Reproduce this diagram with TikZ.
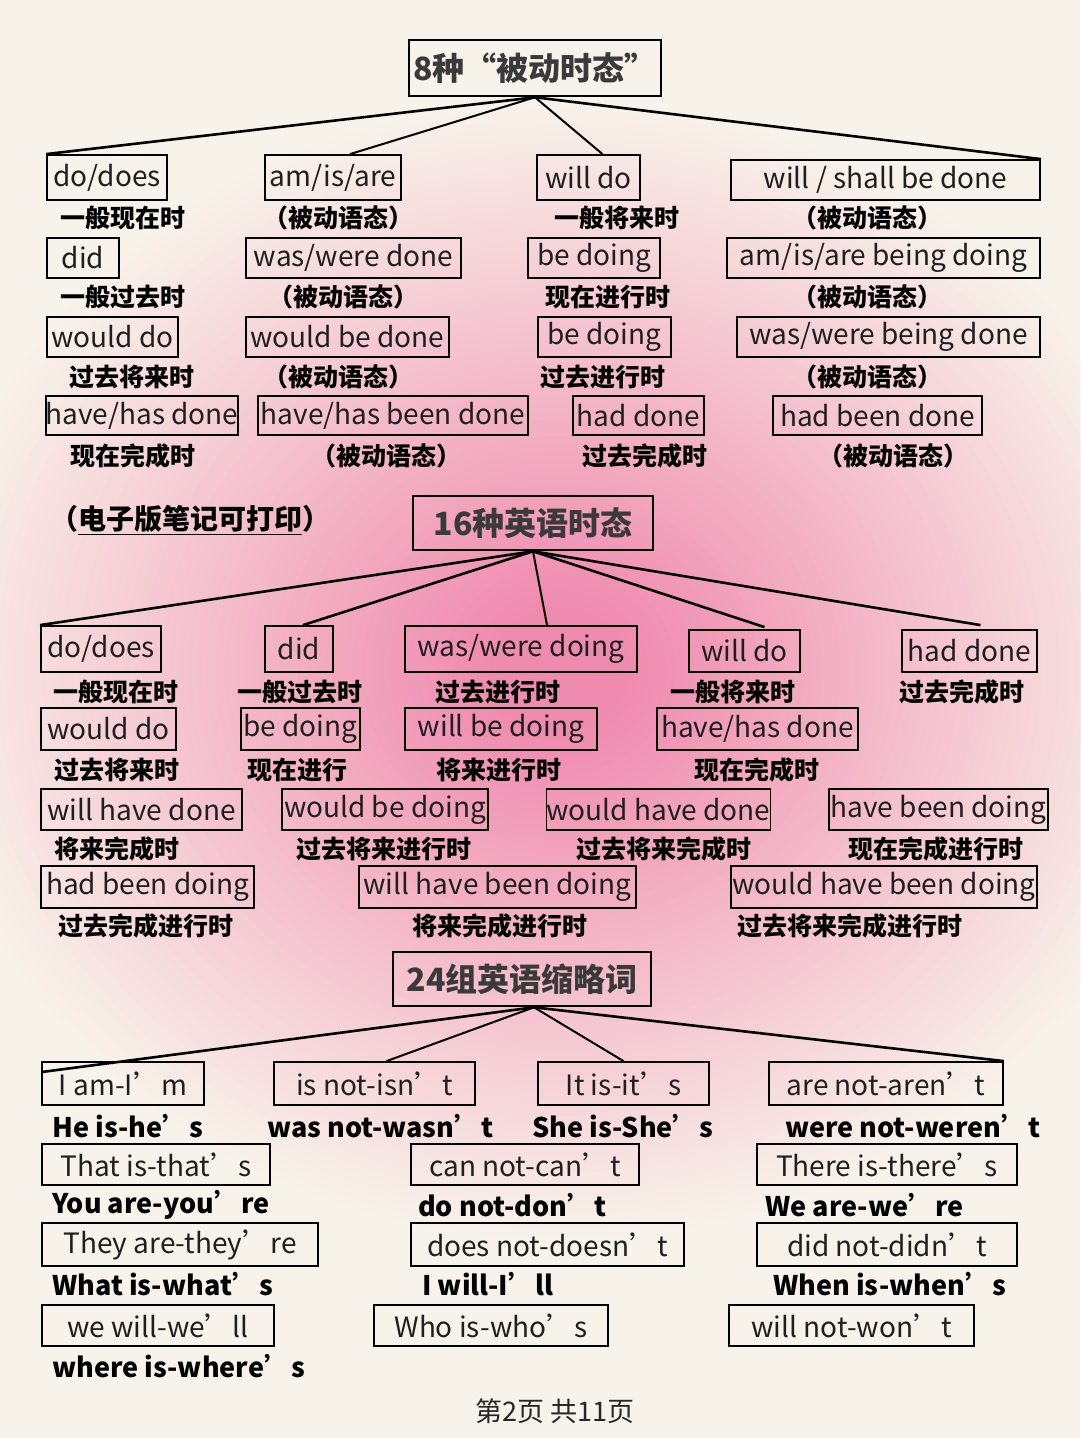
\documentclass[tikz,border=0pt]{standalone}
\usepackage{fontspec}
\setmainfont{Noto Sans CJK SC}
\usetikzlibrary{calc}
\definecolor{cream}{HTML}{F8F3EA}
\definecolor{pk1}{HTML}{F08BB0}
\definecolor{titlegrey}{HTML}{3A3A3A}
\newcommand{\bx}[6]{\node[tb, minimum width={(#4-#2)*1pt}, minimum height={(#5-#3)*1pt}] (#1) at ({(#2+#4)/2},{(#3+#5)/2}) {#6};}
\begin{document}
\begin{tikzpicture}[x=1pt,y=-1pt,
  tb/.style={draw=black, line width=1.8pt, inner sep=0pt, font=\fontsize{28}{30}\selectfont, text=black!88},
  ttl/.style={draw=black, line width=2.6pt, inner sep=0pt, font=\fontsize{32}{34}\selectfont\bfseries, text=titlegrey},
  lbl/.style={inner sep=0pt, font=\fontsize{25}{27}\selectfont\bfseries, text=black},
  plain/.style={inner sep=0pt, anchor=west, font=\fontsize{27}{29}\selectfont\bfseries, text=black},
  conn/.style={draw=black, line width=2.6pt},
  conn2/.style={draw=black, line width=2pt}]
\useasboundingbox (0,0) rectangle (1080,1438);
\fill[cream] (0,0) rectangle (1080,1438);
\begin{scope}
\clip (0,0) rectangle (1080,1438);
\foreach \i in {1,...,70}{
  \pgfmathsetmacro{\f}{\i/70}
  \pgfmathsetmacro{\pc}{min(100,112*\f)}
  \pgfmathsetmacro{\rx}{640*(1-\f)+6}
  \pgfmathsetmacro{\ry}{570*(1-\f)+6}
  \fill[pk1!\pc!cream] (560,670) ellipse ({\rx pt} and {\ry pt});
}
\end{scope}

% ---------- Section 1 ----------
\node[ttl, minimum width=252pt, minimum height=56pt] (t1) at (535,68) {8种“被动时态”};
\bx{a1}{47}{155}{167}{200}{do/does}
\bx{a2}{265}{155}{401}{200}{am/is/are}
\bx{a3}{537}{155}{640}{200}{will do}
\bx{a4}{731}{160}{1040}{200}{will / shall be done}
\node[lbl] (la1) at (123,218) {一般现在时};
\node[lbl] (la2) at (338,218) {（被动语态）};
\node[lbl] (la3) at (617,218) {一般将来时};
\node[lbl] (la4) at (867,218) {（被动语态）};
\bx{b1}{47}{238}{119}{278}{did}
\bx{b2}{246}{238}{461}{278}{was/were done}
\bx{b3}{528}{238}{660}{278}{be doing}
\bx{b4}{727}{238}{1040}{278}{am/is/are being doing}
\node[lbl] (lb1) at (123,297) {一般过去时};
\node[lbl] (lb2) at (343,297) {（被动语态）};
\node[lbl] (lb3) at (608,297) {现在进行时};
\node[lbl] (lb4) at (867,297) {（被动语态）};
\bx{c1}{47}{317}{178}{357}{would do}
\bx{c2}{246}{317}{449}{357}{would be done}
\bx{c3}{538}{317}{671}{357}{be doing}
\bx{c4}{737}{317}{1040}{357}{was/were being done}
\node[lbl] (lc1) at (132,377) {过去将来时};
\node[lbl] (lc2) at (338,377) {（被动语态）};
\node[lbl] (lc3) at (603,377) {过去进行时};
\node[lbl] (lc4) at (867,377) {（被动语态）};
\bx{d1}{47}{396}{237}{435}{have/has done}
\bx{d2}{258}{396}{528}{435}{have/has been done}
\bx{d3}{573}{396}{704}{435}{had done}
\bx{d4}{773}{396}{982}{435}{had been done}
\node[lbl] (ld1) at (133,456) {现在完成时};
\node[lbl] (ld2) at (386,456) {（被动语态）};
\node[lbl] (ld3) at (645,456) {过去完成时};
\node[lbl] (ld4) at (893,456) {（被动语态）};
\draw[conn] (t1.south) -- (a1.north west);
\draw[conn2] (t1.south) -- ($(a2.north)+(17,0)$);
\draw[conn2] (t1.south) -- ($(a3.north)+(14,0)$);
\draw[conn] (t1.south) -- (a4.north east);

\node[lbl, font=\fontsize{28}{30}\selectfont\bfseries] (note) at (190,520) {（\underline{电子版笔记可打印}）};

% ---------- Section 2 ----------
\node[ttl, minimum width=240pt, minimum height=54pt] (t2) at (533,523) {16种英语时态};
\bx{e1}{41}{626}{161}{672}{do/does}
\bx{e2}{265}{626}{333}{672}{did}
\bx{e3}{405}{626}{637}{672}{was/were doing}
\bx{e4}{689}{630}{800}{672}{will do}
\bx{e5}{902}{630}{1037}{672}{had done}
\node[lbl] (le1) at (116,692) {一般现在时};
\node[lbl] (le2) at (300,692) {一般过去时};
\node[lbl] (le3) at (498,692) {过去进行时};
\node[lbl] (le4) at (733,692) {一般将来时};
\node[lbl] (le5) at (962,692) {过去完成时};
\bx{f1}{41}{708}{176}{750}{would do}
\bx{f2}{241}{708}{360}{750}{be doing}
\bx{f3}{405}{708}{597}{750}{will be doing}
\bx{f4}{657}{708}{858}{750}{have/has done}
\node[lbl] (lf1) at (117,770) {过去将来时};
\node[lbl] (lf2) at (297,770) {现在进行};
\node[lbl] (lf3) at (499,770) {将来进行时};
\node[lbl] (lf4) at (757,770) {现在完成时};
\bx{g1}{41}{789}{242}{830}{will have done}
\bx{g2}{282}{789}{488}{830}{would be doing}
\bx{g3}{548}{789}{769}{830}{would have done}
\bx{g4}{829}{789}{1048}{830}{have been doing}
\node[lbl] (lg1) at (117,849) {将来完成时};
\node[lbl] (lg2) at (384,849) {过去将来进行时};
\node[lbl] (lg3) at (664,849) {过去将来完成时};
\node[lbl] (lg4) at (936,849) {现在完成进行时};
\bx{h1}{41}{866}{254}{908}{had been doing}
\bx{h2}{359}{866}{636}{908}{will have been doing}
\bx{h3}{731}{866}{1037}{908}{would have been doing}
\node[lbl] (lh1) at (146,926) {过去完成进行时};
\node[lbl] (lh2) at (500,926) {将来完成进行时};
\node[lbl] (lh3) at (850,926) {过去将来完成进行时};
\draw[conn] (t2.south) -- (e1.north west);
\draw[conn] (t2.south) -- ($(e2.north)+(4,0)$);
\draw[conn2] (t2.south) -- ($(e3.north)+(26,0)$);
\draw[conn] (t2.south) -- ($(e4.north)+(20,-2)$);
\draw[conn] (t2.south) -- ($(e5.north)+(11,-4)$);

% ---------- Section 3 ----------
\node[ttl, minimum width=258pt, minimum height=54pt] (t3) at (522,979) {24组英语缩略词};
\bx{k1}{42}{1062}{204}{1105}{I am-I’m}
\bx{k2}{274}{1062}{475}{1105}{is not-isn’t}
\bx{k3}{538}{1062}{709}{1105}{It is-it’s}
\bx{k4}{769}{1062}{1003}{1105}{are not-aren’t}
\node[plain] (p1) at (52,1126) {He is-he’s};
\node[plain] (p2) at (267,1126) {was not-wasn’t};
\node[plain] (p3) at (532,1126) {She is-She’s};
\node[plain] (p4) at (785,1126) {were not-weren’t};
\bx{m1}{42}{1144}{270}{1185}{That is-that’s}
\bx{m2}{411}{1144}{639}{1185}{can not-can’t}
\bx{m3}{757}{1144}{1017}{1185}{There is-there’s}
\node[plain] (q1) at (52,1205) {You are-you’re};
\node[plain] (q2) at (418,1205) {do not-don’t};
\node[plain] (q3) at (765,1205) {We are-we’re};
\bx{n1}{42}{1223}{318}{1266}{They are-they’re}
\bx{n2}{411}{1223}{684}{1266}{does not-doesn’t}
\bx{n3}{757}{1223}{1017}{1266}{did not-didn’t}
\node[plain] (r1) at (52,1284) {What is-what’s};
\node[plain] (r2) at (422,1284) {I will-I’ll};
\node[plain] (r3) at (773,1284) {When is-when’s};
\bx{o1}{42}{1305}{274}{1346}{we will-we’ll}
\bx{o2}{374}{1305}{608}{1346}{Who is-who’s}
\bx{o3}{729}{1305}{974}{1346}{will not-won’t}
\node[plain] (s1) at (52,1366) {where is-where’s};
\draw[conn] ($(t3.south)+(12,0)$) -- ($(k1.north west)+(0,11)$);
\draw[conn2] ($(t3.south)+(12,0)$) -- ($(k2.north)+(12,0)$);
\draw[conn2] ($(t3.south)+(12,0)$) -- (k3.north);
\draw[conn] ($(t3.south)+(12,0)$) -- (k4.north east);

\node[inner sep=0pt, font=\fontsize{27}{29}\selectfont, text=black!85] (foot) at (555,1411) {第2页 共11页};
\end{tikzpicture}
\end{document}
